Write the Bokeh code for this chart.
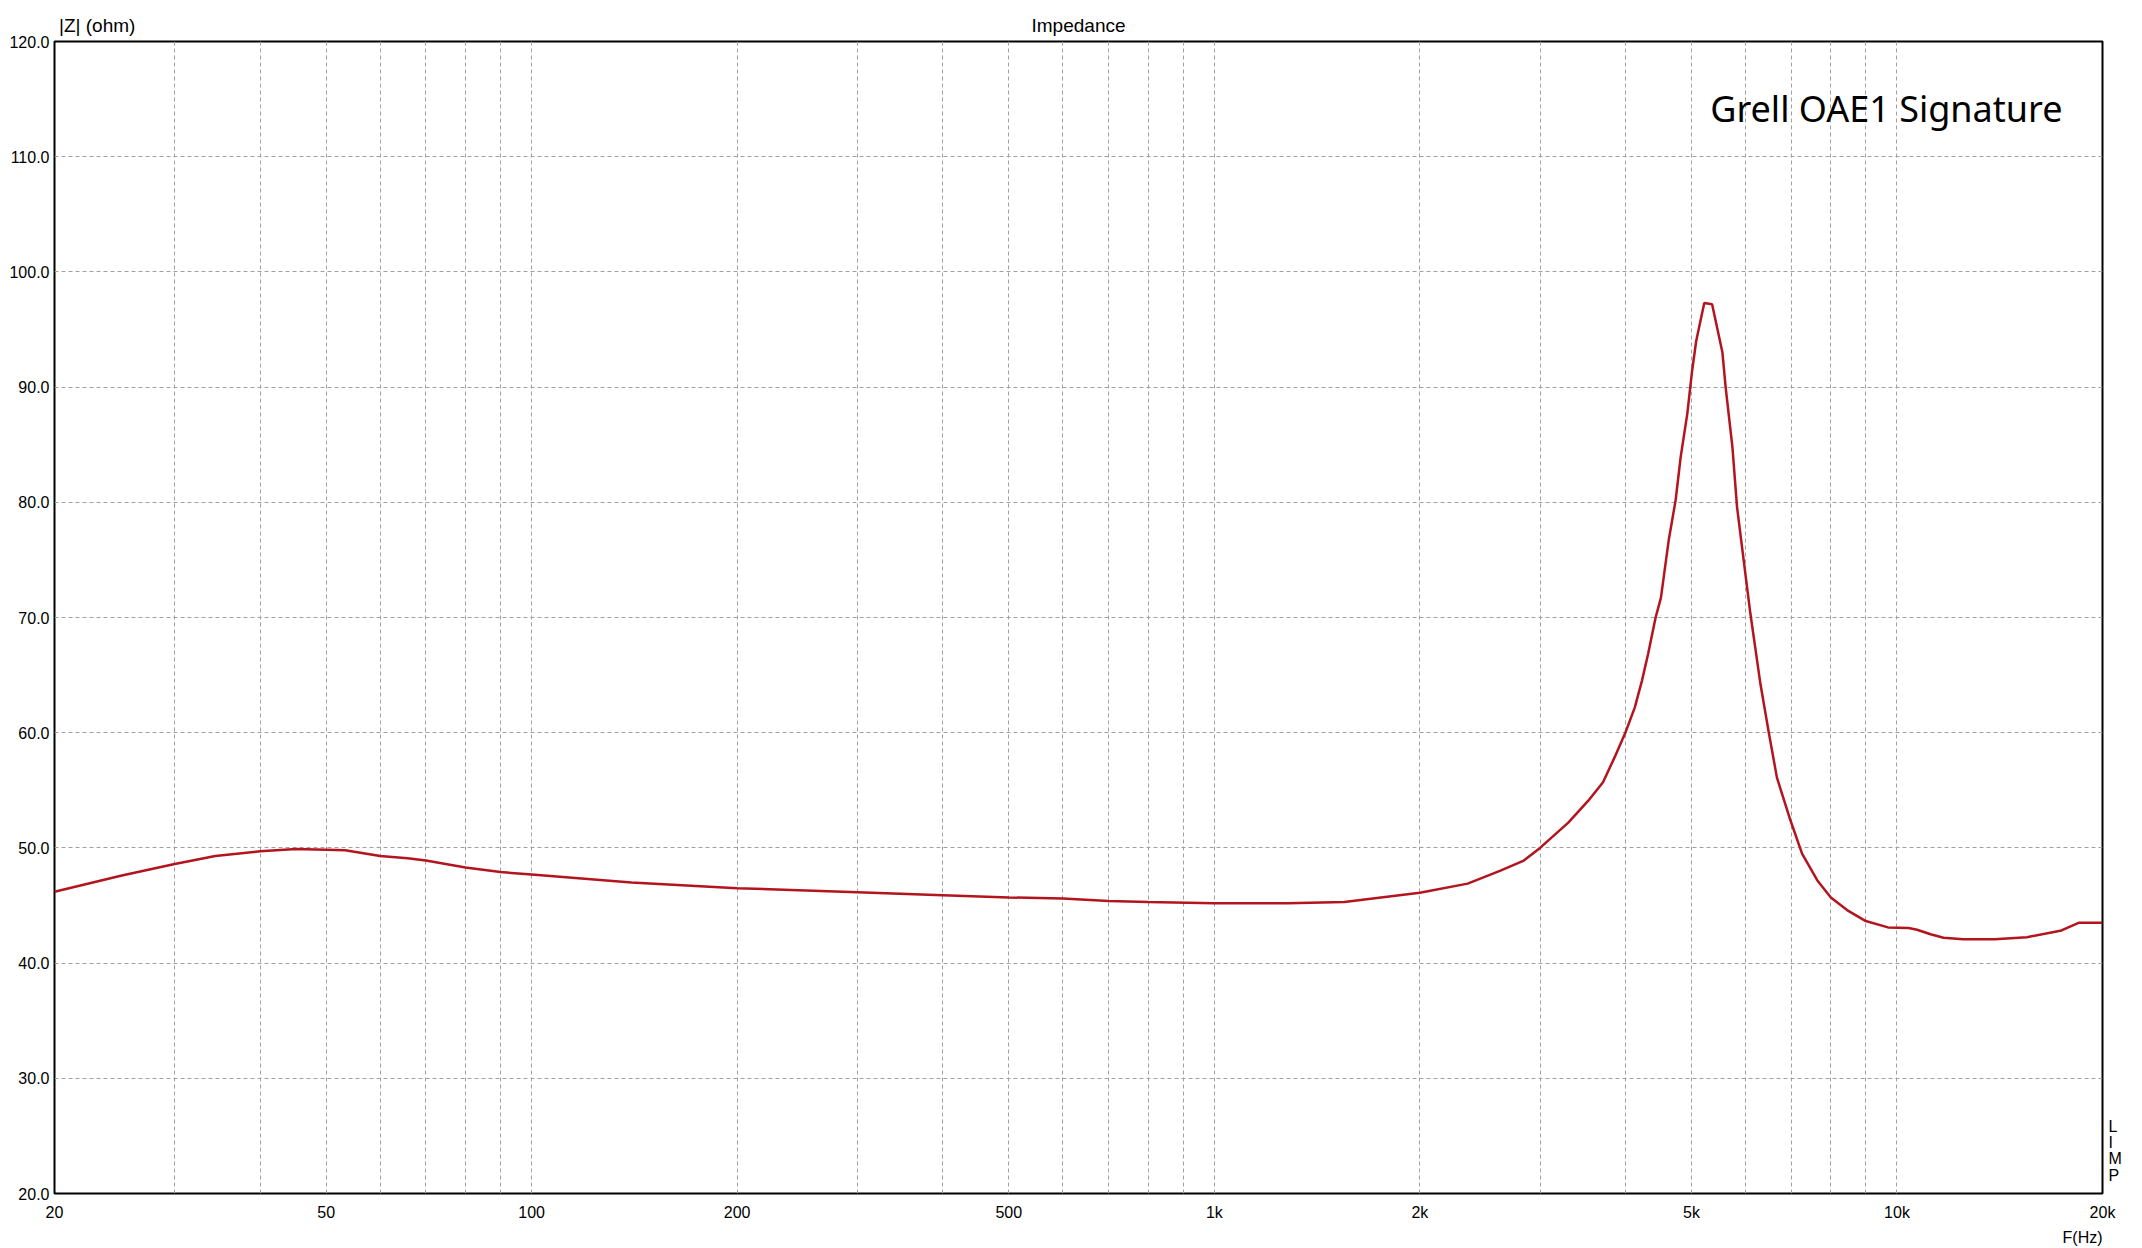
from bokeh.plotting import figure
from bokeh.models import FixedTicker, Label, PrintfTickFormatter, LogAxis, LinearAxis
from bokeh.embed import file_html
from bokeh.resources import INLINE

# Impedance curve (frequency in Hz, |Z| in ohm)
freq_hz = [20, 25.1, 30, 34.4, 40, 45.2, 50, 53.3, 60, 65.8, 70, 80, 90, 100, 140, 200,
           300, 400, 500, 600, 700, 800, 1000, 1280, 1550, 2000, 2350, 2620, 2840, 3000,
           3300, 3530, 3710, 3860, 4000, 4130, 4230, 4320, 4430, 4510, 4630, 4740, 4820,
           4930, 5010, 5080, 5220, 5360, 5550, 5610, 5740, 5830, 5970, 6100, 6310, 6490,
           6670, 6980, 7260, 7640, 8000, 8450, 9000, 9700, 10400, 10700, 11200, 11700,
           12500, 13900, 15500, 17350, 18450, 20000]
impedance_ohm = [46.2, 47.6, 48.6, 49.3, 49.7, 49.9, 49.85, 49.8, 49.3, 49.1, 48.9, 48.3, 47.9,
                 47.7, 47.0, 46.5, 46.15, 45.9, 45.7, 45.6, 45.4, 45.3, 45.2, 45.2, 45.3, 46.1,
                 46.9, 48.0, 48.9, 50.0, 52.2, 54.1, 55.7, 57.9, 60.0, 62.2, 64.5, 66.85, 70.0,
                 71.7, 76.7, 80.2, 83.9, 87.7, 91.4, 94.0, 97.3, 97.2, 93.0, 90.0, 84.8, 79.6,
                 74.7, 70.3, 64.2, 60.0, 56.1, 52.4, 49.5, 47.2, 45.7, 44.6, 43.65, 43.1, 43.05,
                 42.9, 42.5, 42.2, 42.07, 42.07, 42.25, 42.8, 43.5, 43.5]

x_label_ticks = [20, 50, 100, 200, 500, 1000, 2000, 5000, 10000, 20000]
x_label_text = ["20", "50", "100", "200", "500", "1k", "2k", "5k", "10k", "20k"]
x_grid_ticks = [30, 40, 50, 60, 70, 80, 90, 100, 200, 300, 400, 500, 600, 700, 800, 900,
                1000, 2000, 3000, 4000, 5000, 6000, 7000, 8000, 9000, 10000]
y_ticks = [20, 30, 40, 50, 60, 70, 80, 90, 100, 110, 120]

title_text = "Impedance"
y_title = "|Z| (ohm)"
x_title = "F(Hz)"
side_letters = ["L", "I", "M", "P"]
annotation_text = "Grell OAE1 Signature"

# anchor positions (in data units) of the header/footer labels
title_anchor_x = [23.1, 632.5]          # "|Z| (ohm)" centre, "Impedance" centre
x_title_anchor = 18700                  # "F(Hz)" centre
side_anchor_y = [25.8, 24.4, 23.0, 21.6]

FONT = "Liberation Sans"

p = figure(frame_width=2048, frame_height=1152, x_axis_type="log",
           x_range=(20, 20000), y_range=(20, 120),
           output_backend="svg", toolbar_location=None,
           min_border_left=54, min_border_right=40, min_border_top=41, min_border_bottom=55)
p.background_fill_color = "white"
p.border_fill_color = "white"
p.outline_line_color = "black"
p.outline_line_width = 2

p.xaxis.ticker = FixedTicker(ticks=x_label_ticks)
p.xaxis.major_label_overrides = {t: s for t, s in zip(x_label_ticks, x_label_text)}
p.yaxis.ticker = FixedTicker(ticks=y_ticks)
p.yaxis.formatter = PrintfTickFormatter(format="%.1f")
p.xaxis.major_label_standoff = 10
p.yaxis.major_label_standoff = 5

top_axis = LogAxis(ticker=FixedTicker(ticks=title_anchor_x),
                   major_label_overrides={title_anchor_x[0]: y_title, title_anchor_x[1]: title_text},
                   major_label_standoff=6)
p.add_layout(top_axis, "above")
bottom_axis = LogAxis(ticker=FixedTicker(ticks=[x_title_anchor]),
                      major_label_overrides={x_title_anchor: x_title},
                      major_label_standoff=5)
p.add_layout(bottom_axis, "below")
right_axis = LinearAxis(ticker=FixedTicker(ticks=side_anchor_y),
                        major_label_overrides={y: s for y, s in zip(side_anchor_y, side_letters)},
                        major_label_standoff=6)
p.add_layout(right_axis, "right")

for ax in p.axis:
    ax.axis_line_color = None
    ax.major_tick_line_color = None
    ax.minor_tick_line_color = None
    ax.major_tick_out = 0
    ax.major_tick_in = 0
    ax.major_label_text_font = FONT
    ax.major_label_text_font_size = "16px"
    ax.major_label_text_color = "black"
top_axis.major_label_text_font_size = "19px"

p.xgrid.ticker = FixedTicker(ticks=x_grid_ticks)
p.ygrid.ticker = FixedTicker(ticks=y_ticks[1:-1])
for g in (p.xgrid, p.ygrid):
    g.grid_line_color = "#a0a0a0"
    g.grid_line_dash = "4 3"
    g.grid_line_width = 1

p.line(freq_hz, impedance_ohm, line_color="#b3141e", line_width=2.5)

p.add_layout(Label(x=20000, y=120, x_offset=-40, y_offset=-67, text=annotation_text,
                   text_align="right", text_baseline="alphabetic", text_font="Noto Sans",
                   text_font_size="36px", text_color="black"))

open("out.html", "w").write(file_html(p, INLINE))
